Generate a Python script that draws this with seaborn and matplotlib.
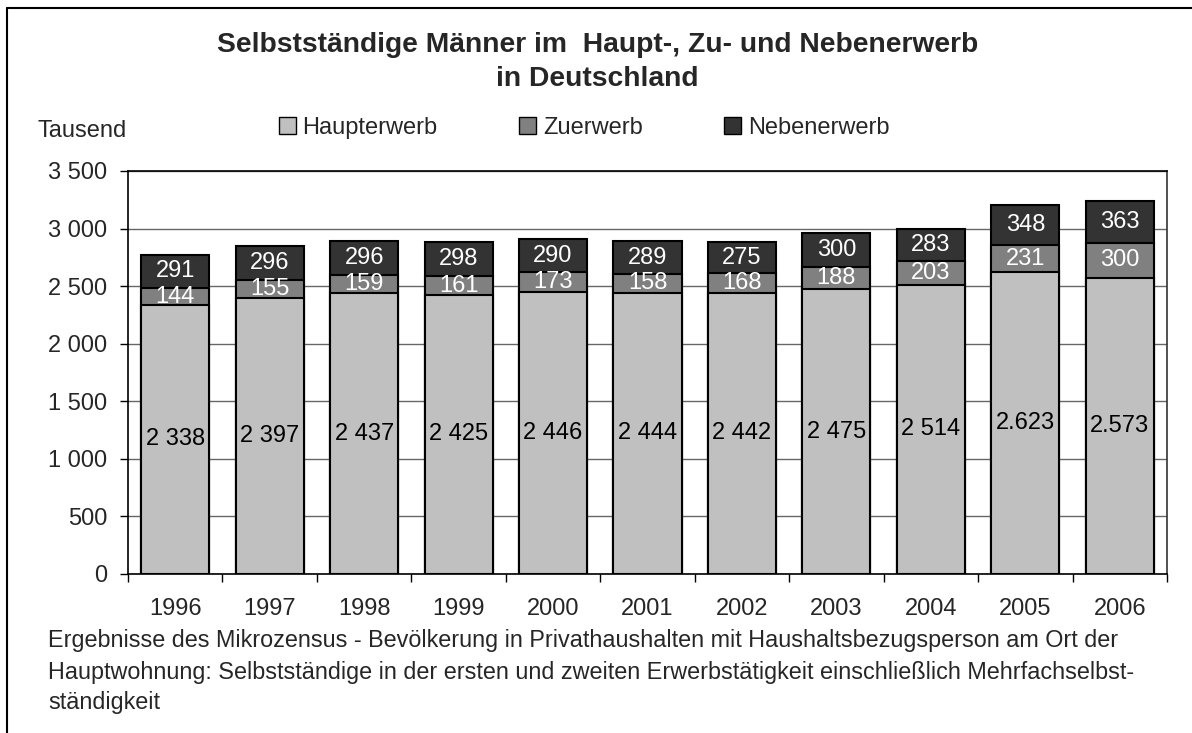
import matplotlib
matplotlib.use("Agg")
import matplotlib.pyplot as plt
import seaborn as sns
import numpy as np
import pandas as pd
from matplotlib.patches import Patch
from matplotlib.lines import Line2D
from matplotlib.ticker import FuncFormatter, FixedLocator

years = ["1996", "1997", "1998", "1999", "2000", "2001", "2002", "2003", "2004", "2005", "2006"]
haupterwerb = [2338, 2397, 2437, 2425, 2446, 2444, 2442, 2475, 2514, 2623, 2573]
zuerwerb = [144, 155, 159, 161, 173, 158, 168, 188, 203, 231, 300]
nebenerwerb = [291, 296, 296, 298, 290, 289, 275, 300, 283, 348, 363]
haupt_labels = ["2 338", "2 397", "2 437", "2 425", "2 446", "2 444", "2 442", "2 475", "2 514", "2.623", "2.573"]
series_names = ["Haupterwerb", "Zuerwerb", "Nebenerwerb"]
colors = ["#c0c0c0", "#808080", "#333333"]

sns.set_theme(style="white")
plt.rcParams["font.family"] = ["Liberation Sans", "DejaVu Sans"]

df = pd.DataFrame({"year": years, "h": haupterwerb, "z": zuerwerb, "n": nebenerwerb})
df["hz"] = df["h"] + df["z"]
df["total"] = df["hz"] + df["n"]

W, H = 1192, 733
fig = plt.figure(figsize=(W / 100, H / 100), dpi=100)
ax = fig.add_axes([128 / W, 1 - 574 / H, (1167 - 128) / W, (574 - 171) / H])

bw = 0.72
sns.barplot(data=df, x="year", y="total", color=colors[2], saturation=1, width=bw,
            edgecolor="black", linewidth=1.5, ax=ax, zorder=3)
sns.barplot(data=df, x="year", y="hz", color=colors[1], saturation=1, width=bw,
            edgecolor="black", linewidth=1.5, ax=ax, zorder=4)
sns.barplot(data=df, x="year", y="h", color=colors[0], saturation=1, width=bw,
            edgecolor="black", linewidth=1.5, ax=ax, zorder=5)

fs = 17
for i in range(len(years)):
    ax.text(i, haupterwerb[i] / 2, haupt_labels[i], ha="center", va="center",
            fontsize=fs, color="black", zorder=6)
    ax.text(i, haupterwerb[i] + zuerwerb[i] / 2, str(zuerwerb[i]), ha="center", va="center",
            fontsize=fs, color="white", zorder=6)
    ax.text(i, df["hz"][i] + nebenerwerb[i] / 2, str(nebenerwerb[i]), ha="center", va="center",
            fontsize=fs, color="white", zorder=6)

ax.set_ylim(0, 3500)
ax.set_xlim(-0.5, len(years) - 0.5)
ax.set_yticks(np.arange(0, 3501, 500))
ax.yaxis.set_major_formatter(FuncFormatter(lambda v, p: f"{int(v):,}".replace(",", " ")))
ax.grid(axis="y", color="#666666", linewidth=1, zorder=0)
ax.grid(axis="x", visible=False)
ax.set_xlabel("")
ax.set_ylabel("")
ax.tick_params(axis="y", which="major", direction="out", length=6, width=1, color="black",
               left=True, labelsize=17, pad=9)
ax.tick_params(axis="x", which="major", length=0, labelsize=17, pad=17)
ax.xaxis.set_minor_locator(FixedLocator(np.arange(-0.5, len(years), 1.0)))
ax.tick_params(axis="x", which="minor", direction="out", length=6, width=1, color="black", bottom=True)
for s in ["left", "bottom", "top", "right"]:
    ax.spines[s].set_color("black")
    ax.spines[s].set_linewidth(1.2)
ax.spines["right"].set_color("#333333")

fig.text(598 / W, 1 - 45 / H, "Selbstständige Männer im  Haupt-, Zu- und Nebenerwerb",
         ha="center", va="center", fontsize=20.3, fontweight="bold")
fig.text(597 / W, 1 - 79 / H, "in Deutschland", ha="center", va="center",
         fontsize=20.3, fontweight="bold")
fig.text(37 / W, 1 - 131 / H, "Tausend", ha="left", va="center", fontsize=17)

handles = [Patch(facecolor=c, edgecolor="black", linewidth=1) for c in colors]
fig.legend(handles, series_names, loc="center left", bbox_to_anchor=(279 / W, 1 - 128 / H),
           ncol=3, frameon=False, fontsize=17, handlelength=0.7, handleheight=0.7,
           handletextpad=0.3, columnspacing=3.45, borderaxespad=0, borderpad=0)

foot_lines = [
    "Ergebnisse des Mikrozensus - Bevölkerung in Privathaushalten mit Haushaltsbezugsperson am Ort der",
    "Hauptwohnung: Selbstständige in der ersten und zweiten Erwerbstätigkeit einschließlich Mehrfachselbst-",
    "ständigkeit",
]
for k, line in enumerate(foot_lines):
    fig.text(48 / W, 1 - (641 + 31 * k) / H, line, ha="left", va="center", fontsize=16.8)

fig.add_artist(Line2D([7 / W, 7 / W], [0, 1 - 8 / H], transform=fig.transFigure,
                      color="black", linewidth=1.5))
fig.add_artist(Line2D([7 / W, 1], [1 - 8 / H, 1 - 8 / H], transform=fig.transFigure,
                      color="black", linewidth=1.5))

fig.savefig("out.png", dpi=100)
